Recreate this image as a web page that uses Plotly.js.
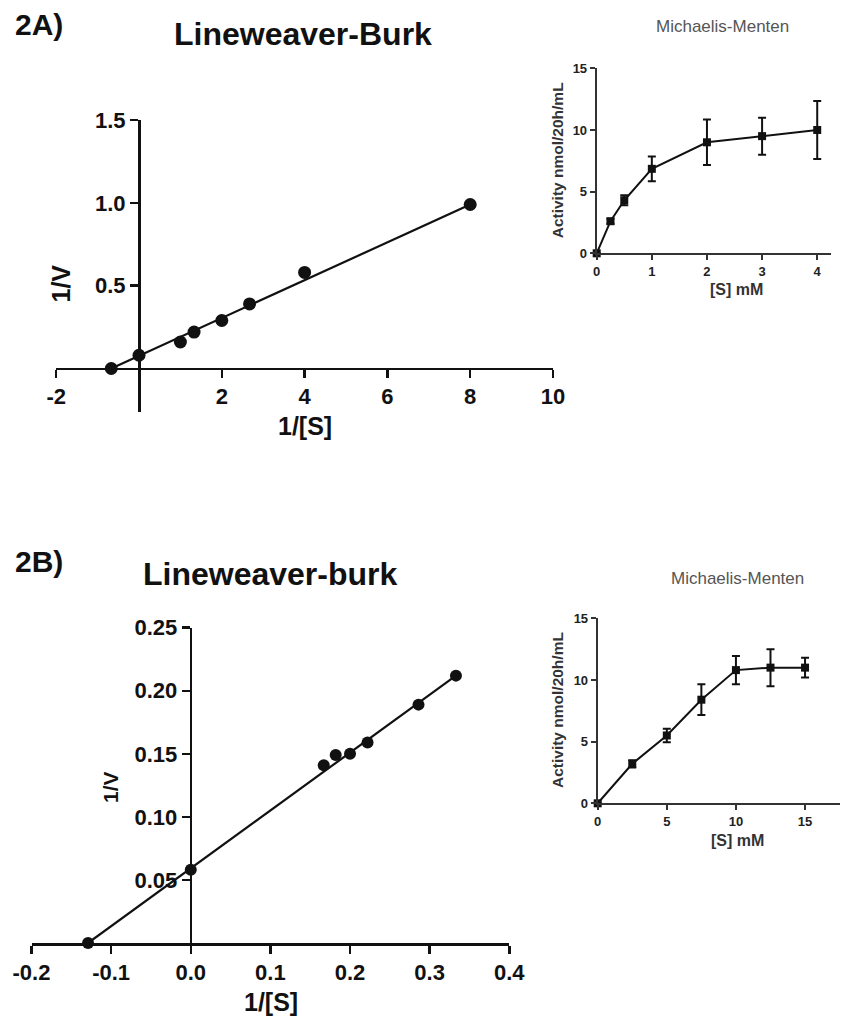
<!DOCTYPE html>
<html>
<head>
<meta charset="utf-8">
<script src="https://cdn.plot.ly/plotly-3.0.1.min.js"></script>
<style>html,body{margin:0;padding:0;background:#fff;}#chart{width:846px;height:1026px;}</style>
</head>
<body>
<div id="chart"></div>
<script>
// ---- Data ----
// 2A Lineweaver-Burk
const lbA_x = [-0.67, 0, 1, 1.33, 2, 2.67, 4, 8];
const lbA_y = [0, 0.08, 0.16, 0.22, 0.29, 0.39, 0.58, 0.99];
const lbA_fitX = [-0.67, 8];
const lbA_fitY = [0, 0.99];
const lbA_xticks = [-2, 2, 4, 6, 8, 10];
const lbA_xlabels = ["-2", "2", "4", "6", "8", "10"];
const lbA_yticks = [0.5, 1.0, 1.5];
const lbA_ylabels = ["0.5", "1.0", "1.5"];

// 2B Lineweaver-burk
const lbB_x = [-0.129, 0, 0.167, 0.182, 0.2, 0.222, 0.286, 0.333];
const lbB_y = [0, 0.058, 0.141, 0.149, 0.150, 0.159, 0.189, 0.212];
const lbB_fitX = [-0.129, 0.333];
const lbB_fitY = [0, 0.212];
const lbB_xticks = [-0.2, -0.1, 0, 0.1, 0.2, 0.3, 0.4];
const lbB_xlabels = ["-0.2", "-0.1", "0.0", "0.1", "0.2", "0.3", "0.4"];
const lbB_yticks = [0.05, 0.10, 0.15, 0.20, 0.25];
const lbB_ylabels = ["0.05", "0.10", "0.15", "0.20", "0.25"];

// Inset A Michaelis-Menten
const mmA_S = [0, 0.25, 0.5, 1, 2, 3, 4];
const mmA_V = [0, 2.6, 4.3, 6.85, 9.0, 9.5, 10.0];
const mmA_err = [0, 0.2, 0.4, 1.0, 1.85, 1.5, 2.35];
const mmA_xticks = [0, 1, 2, 3, 4];
const mm_yticks = [0, 5, 10, 15];

// Inset B Michaelis-Menten
const mmB_S = [0, 2.5, 5, 7.5, 10, 12.5, 15];
const mmB_V = [0, 3.2, 5.5, 8.4, 10.8, 11.0, 11.0];
const mmB_err = [0, 0.3, 0.55, 1.25, 1.15, 1.5, 0.8];
const mmB_xticks = [0, 5, 10, 15];

// ---- Layout helpers ----
const W = 846, H = 1026;
const fx = px => px / W;
const fy = py => 1 - py / H;
const FAM = "Liberation Sans, Arial, Helvetica, sans-serif";
const INK = "#111";

function mainAxis(extra) {
  return Object.assign({
    showline: true, linewidth: 2.5, linecolor: INK,
    ticks: "outside", ticklen: 8, tickwidth: 2.5, tickcolor: INK,
    tickfont: {family: FAM, size: 22, weight: "bold", color: INK},
    showgrid: false, zeroline: false, fixedrange: true, tickmode: "array"
  }, extra);
}
function insetAxis(extra) {
  return Object.assign({
    showline: true, linewidth: 2, linecolor: "#333",
    ticks: "outside", ticklen: 5, tickwidth: 2, tickcolor: "#333",
    tickfont: {family: FAM, size: 13, weight: "bold", color: "#222"},
    showgrid: false, zeroline: false, fixedrange: true, tickmode: "array"
  }, extra);
}

const traces = [
  {x: lbA_fitX, y: lbA_fitY, mode: "lines", line: {color: INK, width: 2.2},
   xaxis: "x", yaxis: "y", cliponaxis: false, hoverinfo: "skip"},
  {x: lbA_x, y: lbA_y, mode: "markers", marker: {symbol: "circle", size: 13, color: INK},
   xaxis: "x", yaxis: "y", cliponaxis: false},
  {x: lbB_fitX, y: lbB_fitY, mode: "lines", line: {color: INK, width: 2.2},
   xaxis: "x2", yaxis: "y2", cliponaxis: false, hoverinfo: "skip"},
  {x: lbB_x, y: lbB_y, mode: "markers", marker: {symbol: "circle", size: 12, color: INK},
   xaxis: "x2", yaxis: "y2", cliponaxis: false},
  {x: mmA_S, y: mmA_V, mode: "lines+markers",
   line: {color: INK, width: 2}, marker: {symbol: "square", size: 8, color: INK},
   error_y: {type: "data", array: mmA_err, visible: true, thickness: 2, width: 4, color: INK},
   xaxis: "x3", yaxis: "y3", cliponaxis: false},
  {x: mmB_S, y: mmB_V, mode: "lines+markers",
   line: {color: INK, width: 2}, marker: {symbol: "square", size: 8, color: INK},
   error_y: {type: "data", array: mmB_err, visible: true, thickness: 2, width: 4, color: INK},
   xaxis: "x4", yaxis: "y4", cliponaxis: false}
];

function ann(text, x, y, size, opts) {
  return Object.assign({
    text: text, xref: "paper", yref: "paper", x: fx(x), y: fy(y),
    xanchor: "center", yanchor: "middle", showarrow: false,
    font: {family: FAM, size: size, weight: "bold", color: INK}
  }, opts || {});
}

const layout = {
  width: W, height: H,
  margin: {l: 0, r: 0, t: 0, b: 0},
  paper_bgcolor: "#fff", plot_bgcolor: "rgba(0,0,0,0)",
  showlegend: false,
  xaxis: mainAxis({domain: [fx(56.2), fx(553)], range: [-2, 10], anchor: "free", position: fy(368.5),
    tickvals: lbA_xticks, ticktext: lbA_xlabels}),
  yaxis: mainAxis({domain: [fy(411.6), fy(120)], range: [-0.26, 1.5], anchor: "free", position: fx(139),
    tickvals: lbA_yticks, ticktext: lbA_ylabels}),
  xaxis2: mainAxis({domain: [fx(31.5), fx(509.3)], range: [-0.2, 0.4], anchor: "y2",
    tickvals: lbB_xticks, ticktext: lbB_xlabels}),
  yaxis2: mainAxis({domain: [fy(943), fy(627.7)], range: [0, 0.25], anchor: "free", position: fx(190.7),
    tickvals: lbB_yticks, ticktext: lbB_ylabels}),
  xaxis3: insetAxis({domain: [fx(596.7), fx(831)], range: [0, 4.25], anchor: "y3", tickvals: mmA_xticks}),
  yaxis3: insetAxis({domain: [fy(253.3), fy(68.3)], range: [0, 15], anchor: "x3", tickvals: mm_yticks}),
  xaxis4: insetAxis({domain: [fx(597.7), fx(839.6)], range: [0, 17.5], anchor: "y4", tickvals: mmB_xticks}),
  yaxis4: insetAxis({domain: [fy(803.3), fy(618.3)], range: [0, 15], anchor: "x4", tickvals: mm_yticks}),
  annotations: [
    ann("2A)", 13, 24, 30, {xanchor: "left"}),
    ann("Lineweaver-Burk", 303, 34, 32),
    ann("1/[S]", 304.5, 426, 25),
    ann("1/V", 60, 283.5, 25, {textangle: -90}),
    ann("2B)", 13, 561, 30, {xanchor: "left"}),
    ann("Lineweaver-burk", 270, 574, 32),
    ann("1/[S]", 271, 1001.5, 25),
    ann("1/V", 110, 787, 21, {textangle: -90}),
    ann("Michaelis-Menten", 722.5, 26, 17, {font: {family: FAM, size: 17, color: "#555"}}),
    ann("Activity nmol/20h/mL", 557.5, 160.8, 15.5, {textangle: -90, font: {family: FAM, size: 15.5, weight: "bold", color: "#333"}}),
    ann("[S] mM", 736, 289, 16, {font: {family: FAM, size: 16, weight: "bold", color: "#333"}}),
    ann("Michaelis-Menten", 737.5, 578.5, 17, {font: {family: FAM, size: 17, color: "#555"}}),
    ann("Activity nmol/20h/mL", 557.5, 710.5, 15.5, {textangle: -90, font: {family: FAM, size: 15.5, weight: "bold", color: "#333"}}),
    ann("[S] mM", 737.5, 840, 16, {font: {family: FAM, size: 16, weight: "bold", color: "#333"}})
  ]
};

Plotly.newPlot("chart", traces, layout, {displayModeBar: false, staticPlot: true});
</script>
</body>
</html>
